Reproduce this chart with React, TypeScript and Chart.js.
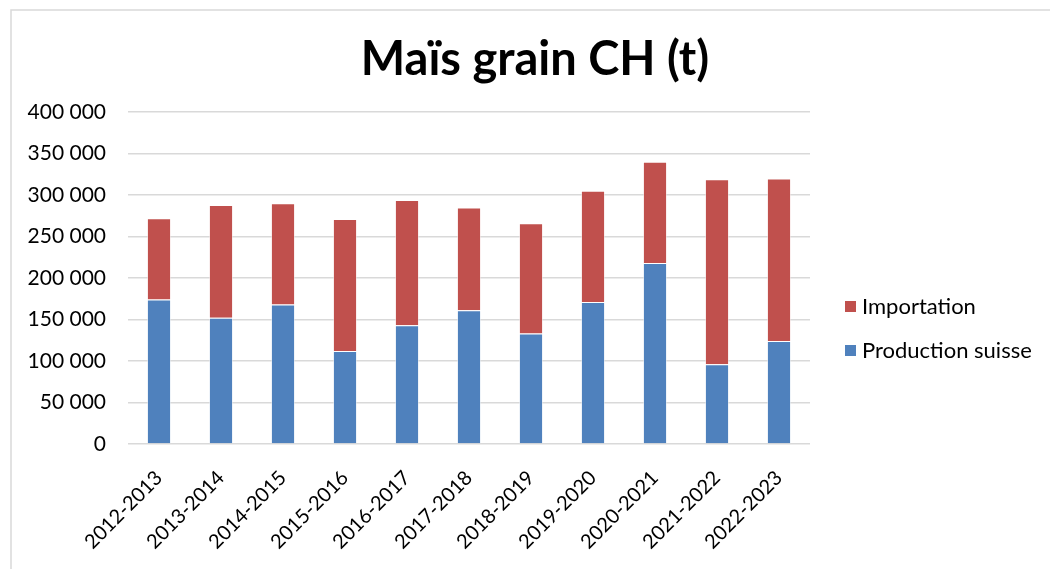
import React, { useEffect, useRef } from "react";
import { Chart, registerables } from "chart.js";

Chart.register(...registerables);

const title = "Maïs grain CH (t)";
const categories = [
  "2012-2013", "2013-2014", "2014-2015", "2015-2016", "2016-2017", "2017-2018",
  "2018-2019", "2019-2020", "2020-2021", "2021-2022", "2022-2023",
];
const productionSuisse = [174000, 152000, 168000, 112000, 143000, 161000, 133000, 171000, 218000, 96000, 124000];
const importation = [98000, 136000, 122000, 159000, 151000, 124000, 133000, 134000, 122000, 223000, 196000];
const yTicks = [0, 50000, 100000, 150000, 200000, 250000, 300000, 350000, 400000];

const BLUE = "#4F81BD";
const RED = "#C0504D";
const FONT = "Lato, 'Open Sans', sans-serif";

function fmt(v: number): string {
  return String(Math.round(v)).replace(/\B(?=(\d{3})+(?!\d))/g, " ");
}

export default function App() {
  const ref = useRef<HTMLCanvasElement | null>(null);
  useEffect(() => {
    if (!ref.current) return;
    const deco = {
      id: "deco",
      beforeDraw(chart: any) {
        const ctx = chart.ctx;
        ctx.save();
        ctx.fillStyle = "#fff";
        ctx.fillRect(0, 0, chart.width, chart.height);
        ctx.strokeStyle = "#D9D9D9";
        ctx.lineWidth = 1.5;
        ctx.beginPath();
        ctx.moveTo(11, chart.height + 2);
        ctx.lineTo(11, 10);
        ctx.lineTo(chart.width + 2, 10);
        ctx.stroke();
        ctx.restore();
      },
      afterDraw(chart: any) {
        const ctx = chart.ctx;
        ctx.save();
        ctx.fillStyle = "#000";
        ctx.font = `bold 47px ${FONT}`;
        ctx.textAlign = "center";
        ctx.textBaseline = "middle";
        ctx.fillText(title, 535, 60);
        // legend (reverse order)
        const items = [
          { label: chart.data.datasets[1].label, color: RED, y: 307 },
          { label: chart.data.datasets[0].label, color: BLUE, y: 351 },
        ];
        ctx.font = `22px ${FONT}`;
        ctx.textAlign = "left";
        items.forEach((it) => {
          ctx.fillStyle = it.color;
          ctx.fillRect(845, it.y - 6, 11, 11);
          ctx.fillStyle = "#000";
          ctx.fillText(it.label, 862, it.y);
        });
        ctx.restore();
      },
    };
    const chart = new Chart(ref.current, {
      type: "bar",
      data: {
        labels: categories,
        datasets: [
          {
            label: "Production suisse",
            data: productionSuisse,
            backgroundColor: BLUE,
            borderColor: "rgba(255,255,255,0.5)",
            borderWidth: 1,
            barPercentage: 0.39,
            categoryPercentage: 1,
          },
          {
            label: "Importation",
            data: importation,
            backgroundColor: RED,
            borderColor: "rgba(255,255,255,0.5)",
            borderWidth: 1,
            barPercentage: 0.39,
            categoryPercentage: 1,
          },
        ],
      },
      options: {
        responsive: false,
        animation: false,
        layout: { padding: { top: 112, left: 0, right: 240, bottom: 0 } },
        plugins: {
          legend: { display: false },
          title: { display: false },
          tooltip: { enabled: false },
        },
        scales: {
          x: {
            stacked: true,
            grid: { display: false },
            border: { display: false },
            ticks: {
              autoSkip: false,
              minRotation: 45,
              maxRotation: 45,
              color: "#000",
              font: { family: FONT, size: 20 },
              padding: 14,
            },
            afterFit(scale: any) {
              scale.height = 125;
            },
          },
          y: {
            stacked: true,
            min: 0,
            max: 400000,
            afterBuildTicks(scale: any) {
              scale.ticks = yTicks.map((v) => ({ value: v }));
            },
            grid: { color: "#D9D9D9", lineWidth: 1.5, drawTicks: false },
            border: { display: false },
            ticks: {
              color: "#000",
              font: { family: FONT, size: 21 },
              padding: 22,
              callback: (v: any) => fmt(Number(v)),
            },
            afterFit(scale: any) {
              scale.width = 128;
            },
          },
        },
      },
      plugins: [deco],
    });
    return () => chart.destroy();
  }, []);
  return (
    <div style={{ position: "absolute", left: 0, top: 0, width: 1050, height: 569 }}>
      <canvas ref={ref} width={1050} height={569} style={{ display: "block" }} />
    </div>
  );
}
